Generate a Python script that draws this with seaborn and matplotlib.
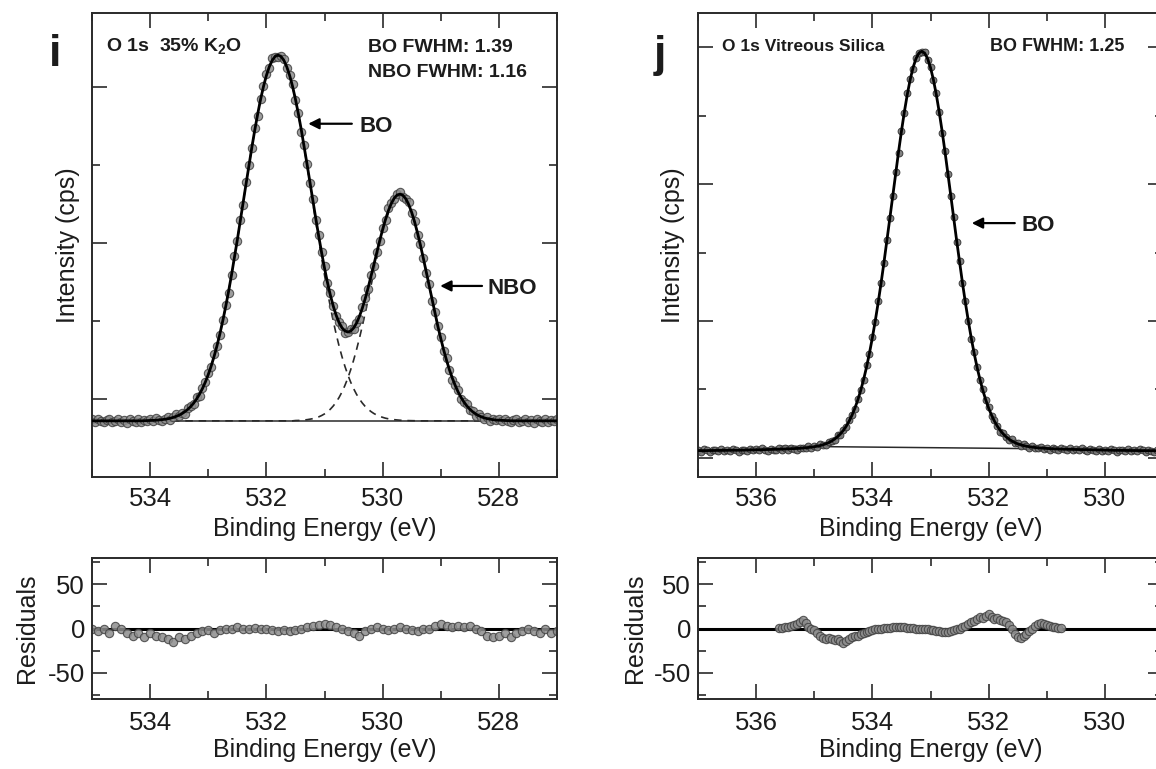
import numpy as np
import pandas as pd
import matplotlib
matplotlib.use("Agg")
import matplotlib.pyplot as plt
from matplotlib.ticker import MultipleLocator, FixedLocator, StrMethodFormatter
import seaborn as sns

sns.set_theme(style="ticks")
plt.rcParams['font.family'] = ['Liberation Sans', 'DejaVu Sans']
plt.rcParams['mathtext.fontset'] = 'custom'
plt.rcParams['mathtext.rm'] = 'Liberation Sans'
plt.rcParams['mathtext.bf'] = 'Liberation Sans:bold'
plt.rcParams['axes.unicode_minus'] = False

# ---------------- data: panel i (O 1s, 35% K2O) ----------------
E_i = np.linspace(535.0, 527.0, 161)          # binding energy (eV), 0.05 eV steps
data_i = [
    0.74, 0.71, 0.75, 0.72, 0.70, 0.73, 0.74, 0.70, 0.72, 0.75,
    0.71, 0.73, 0.69, 0.74, 0.72, 0.71, 0.74, 0.70,
    0.73, 0.72, 0.74, 0.72, 0.76, 0.73, 0.72, 0.75, 0.77, 0.73,
    0.77, 0.81, 0.78, 0.82, 0.81, 0.89, 0.91, 0.94, 1.02, 1.04,
    1.14, 1.22, 1.33, 1.41, 1.58, 1.68, 1.82, 2.01, 2.21, 2.36,
    2.59, 2.84, 3.03, 3.29, 3.49, 3.78, 4.00, 4.22, 4.47, 4.63,
    4.85, 5.01, 5.17, 5.25, 5.37, 5.39, 5.39, 5.40, 5.36, 5.24,
    5.15, 5.04, 4.84, 4.67, 4.43, 4.26, 4.01, 3.77, 3.57, 3.29,
    3.10, 2.88, 2.70, 2.49, 2.36, 2.19, 2.06, 1.99, 1.93, 1.85,
    1.86, 1.90, 1.90, 1.98, 2.03, 2.18, 2.29, 2.41, 2.59, 2.71,
    2.89, 3.03, 3.19, 3.29, 3.45, 3.51, 3.56, 3.63, 3.65, 3.59,
    3.57, 3.52, 3.38, 3.28, 3.10, 2.99, 2.81, 2.62, 2.47, 2.26,
    2.11, 1.93, 1.80, 1.62, 1.53, 1.37, 1.25, 1.18, 1.11, 1.00,
    0.96, 0.94, 0.86, 0.85, 0.78, 0.81, 0.77, 0.75, 0.77, 0.72,
    0.75, 0.73, 0.75, 0.72, 0.75, 0.72, 0.70, 0.73, 0.74, 0.70,
    0.72, 0.75, 0.71, 0.73, 0.69, 0.74, 0.72, 0.71, 0.74, 0.70, 0.73, 0.72, 0.74,
]
fit_i = [0.72] * 18 + [
    0.722, 0.723, 0.725, 0.726, 0.728, 0.731, 0.735, 0.740, 0.746, 0.754,
    0.765, 0.778, 0.794, 0.814, 0.839, 0.869, 0.905, 0.949, 1.001, 1.062,
    1.134, 1.217, 1.313, 1.422, 1.545, 1.682, 1.835, 2.003, 2.185, 2.381,
    2.590, 2.811, 3.040, 3.276, 3.517, 3.757, 3.995, 4.226, 4.447, 4.653,
    4.841, 5.007, 5.148, 5.261, 5.343, 5.393, 5.410, 5.393, 5.344, 5.262,
    5.150, 5.010, 4.845, 4.658, 4.455, 4.236, 4.010, 3.778, 3.545, 3.314,
    3.091, 2.879, 2.679, 2.497, 2.334, 2.193, 2.075, 1.981, 1.914, 1.874,
    1.859, 1.871, 1.910, 1.972, 2.058, 2.163, 2.286, 2.424, 2.572, 2.725,
    2.880, 3.031, 3.174, 3.304, 3.417, 3.509, 3.576, 3.616, 3.628, 3.611,
    3.566, 3.492, 3.393, 3.272, 3.130, 2.974, 2.806, 2.631, 2.453, 2.275,
    2.101, 1.934, 1.777, 1.630, 1.496, 1.374, 1.266, 1.172, 1.089, 1.019,
    0.960, 0.910, 0.869, 0.836, 0.809, 0.788, 0.771, 0.758, 0.748, 0.741,
    0.735, 0.730, 0.728, 0.725, 0.724, 0.722, 0.721, 0.72, 0.72, 0.72,
] + [0.72] * 13
bo_i = [0.72] * 18 + [
    0.722, 0.723, 0.725, 0.726, 0.728, 0.731, 0.735, 0.740, 0.746, 0.754,
    0.765, 0.778, 0.794, 0.814, 0.839, 0.869, 0.905, 0.949, 1.001, 1.062,
    1.134, 1.217, 1.313, 1.422, 1.545, 1.682, 1.835, 2.003, 2.185, 2.381,
    2.590, 2.811, 3.040, 3.276, 3.517, 3.757, 3.995, 4.226, 4.447, 4.653,
    4.841, 5.007, 5.148, 5.261, 5.343, 5.393, 5.410, 5.393, 5.343, 5.261,
    5.148, 5.007, 4.841, 4.653, 4.447, 4.226, 3.995, 3.757, 3.517, 3.276,
    3.040, 2.811, 2.590, 2.381, 2.185, 2.003, 1.835, 1.682, 1.545, 1.422,
    1.313, 1.217, 1.134, 1.062, 1.001, 0.949, 0.905, 0.869, 0.839, 0.814,
    0.794, 0.778, 0.765, 0.754, 0.746, 0.740, 0.735, 0.731, 0.728, 0.726,
    0.725, 0.723, 0.722,
] + [0.72] * 50
nbo_i = [0.72] * 70 + [
    0.724, 0.725, 0.728, 0.730, 0.735, 0.741, 0.748, 0.758, 0.771, 0.788,
    0.809, 0.836, 0.869, 0.910, 0.960, 1.019, 1.089, 1.172, 1.266, 1.374,
    1.496, 1.630, 1.777, 1.934, 2.101, 2.275, 2.453, 2.631, 2.806, 2.973,
    3.129, 3.270, 3.391, 3.489, 3.561, 3.605, 3.620, 3.605, 3.561, 3.489,
    3.391, 3.270, 3.129, 2.973, 2.806, 2.631, 2.453, 2.275, 2.101, 1.934,
    1.777, 1.630, 1.496, 1.374, 1.266, 1.172, 1.089, 1.019, 0.960, 0.910,
    0.869, 0.836, 0.809, 0.788, 0.771, 0.758, 0.748, 0.741, 0.735, 0.730,
    0.728, 0.725, 0.724,
] + [0.72] * 18
bg_i_E = [535.0, 527.0]
bg_i = [0.72, 0.72]

E_res_i = np.linspace(535.0, 527.0, 81)
res_i = [
    0, -3, 0, -5, 3, 0, -5, -8, -5, -10,
    -5, -8, -10, -12, -15, -10, -12, -8, -5, -3,
    -2, -5, -2, 0, 0, 2, 0, 0, 1, 0,
    0, -2, -3, -2, -3, -2, 0, 2, 3, 4,
    5, 4, 2, 0, -3, -5, -8, -3, 0, 2,
    0, -2, 0, 2, 0, -2, -3, -1, 0, 3,
    5, 3, 2, 3, 2, 3, 0, -3, -8, -10,
    -8, -5, -10, -5, -3, 0, -3, -5, 0, -5,
    -3,
]

# ---------------- data: panel j (O 1s, vitreous silica) ----------------
E_j = np.linspace(537.0, 529.0, 161)
data_j = [
    1.12, 1.09, 1.13, 1.11, 1.09, 1.12, 1.11, 1.10, 1.13, 1.10,
    1.12, 1.10, 1.13, 1.11, 1.09, 1.12, 1.11, 1.10, 1.13, 1.11,
    1.13, 1.11, 1.14, 1.12, 1.10, 1.13, 1.12, 1.11, 1.15, 1.12,
    1.14, 1.12, 1.15, 1.13, 1.12, 1.15, 1.14, 1.14, 1.17, 1.15,
    1.17, 1.16, 1.20, 1.19, 1.19, 1.23, 1.25, 1.26, 1.33, 1.34,
    1.41, 1.45, 1.56, 1.62, 1.71, 1.86, 1.99, 2.14, 2.35, 2.52,
    2.77, 2.99, 3.29, 3.56, 3.84, 4.18, 4.50, 4.82, 5.17, 5.46,
    5.78, 6.04, 6.33, 6.53, 6.68, 6.84, 6.91, 6.93, 6.93, 6.82,
    6.71, 6.52, 6.33, 6.05, 5.75, 5.48, 5.15, 4.82, 4.52, 4.16,
    3.87, 3.55, 3.29, 3.00, 2.74, 2.54, 2.33, 2.14, 2.01, 1.84,
    1.74, 1.61, 1.56, 1.46, 1.38, 1.36, 1.31, 1.26, 1.27, 1.21,
    1.22, 1.18, 1.20, 1.17, 1.14, 1.17, 1.15, 1.14, 1.16, 1.13,
    1.15, 1.12, 1.15, 1.13, 1.11, 1.14, 1.13, 1.11, 1.14, 1.11,
    1.13, 1.11, 1.14, 1.12, 1.10, 1.13, 1.12, 1.10, 1.13, 1.10,
    1.12, 1.10, 1.13, 1.11, 1.09, 1.12, 1.11, 1.10, 1.13, 1.10,
    1.12, 1.10, 1.13, 1.11, 1.09, 1.12, 1.10, 1.09, 1.12, 1.09, 1.11,
]
fit_j = [
    1.105, 1.105, 1.106, 1.106, 1.107, 1.107, 1.108, 1.108, 1.109, 1.109,
    1.110, 1.110, 1.111, 1.111, 1.112, 1.112, 1.113, 1.114, 1.115, 1.116,
    1.117, 1.118, 1.119, 1.120, 1.121, 1.122, 1.123, 1.124, 1.126, 1.127,
    1.129, 1.130, 1.132, 1.134, 1.136, 1.139, 1.143, 1.146, 1.151, 1.156,
    1.162, 1.170, 1.179, 1.191, 1.205, 1.223, 1.246, 1.274, 1.308, 1.350,
    1.401, 1.462, 1.536, 1.624, 1.727, 1.848, 1.987, 2.147, 2.328, 2.531,
    2.756, 3.003, 3.270, 3.556, 3.859, 4.174, 4.498, 4.825, 5.151, 5.469,
    5.772, 6.053, 6.307, 6.525, 6.702, 6.833, 6.913, 6.940, 6.913, 6.833,
    6.702, 6.525, 6.307, 6.053, 5.772, 5.469, 5.151, 4.825, 4.498, 4.174,
    3.859, 3.556, 3.270, 3.003, 2.756, 2.531, 2.328, 2.147, 1.987, 1.848,
    1.727, 1.624, 1.536, 1.462, 1.401, 1.350, 1.308, 1.274, 1.246, 1.223,
    1.205, 1.191, 1.179, 1.170, 1.162, 1.156, 1.151, 1.146, 1.143, 1.139,
    1.136, 1.134, 1.132, 1.130, 1.129, 1.127, 1.126, 1.124, 1.123, 1.122,
    1.121, 1.120, 1.119, 1.118, 1.117, 1.116, 1.115, 1.114, 1.113, 1.112,
    1.112, 1.111, 1.111, 1.110, 1.110, 1.109, 1.109, 1.108, 1.108, 1.107,
    1.107, 1.106, 1.106, 1.105, 1.105, 1.105, 1.104, 1.104, 1.103, 1.103, 1.103,
]
bg_j_E = [535.6, 530.75]
bg_j = [1.17, 1.13]

E_res_j = np.linspace(535.6, 530.75, 98)
res_j = [
    0.5, 1, 1.5, 2, 3, 4, 5, 7, 9.5, 6,
    2, 0, -2, -5, -9, -11, -12, -11, -12, -13,
    -12, -14, -16, -14, -12, -10, -9, -8, -6, -5,
    -4, -3, -2, -1, -0.5, 0, 0.5, 1, 1, 1.5,
    2, 2, 2, 1.5, 1, 1, 0.5, 0, 0, -0.5,
    -0.5, -1, -1.5, -2, -2.5, -3, -3.5, -4, -3.5, -3,
    -2, -1, 0, 1.5, 3, 5, 7, 9, 11, 13,
    12, 14, 16, 13, 11, 12, 10, 9, 7, 4,
    0, -6, -10, -11, -9, -6, -3, 0, 3, 5,
    6, 5, 4, 3, 2, 1.5, 1, 0.5,
]

df_i = pd.DataFrame({"E": E_i, "data": data_i, "fit": fit_i, "bo": bo_i, "nbo": nbo_i})
df_j = pd.DataFrame({"E": E_j, "data": data_j, "fit": fit_j})
df_ri = pd.DataFrame({"E": E_res_i, "res": res_i})
df_rj = pd.DataFrame({"E": E_res_j, "res": res_j})

# ---------------- figure ----------------
W, H = 1156, 769
fig = plt.figure(figsize=(W / 100, H / 100), dpi=100)


def box(x0, y0, x1, y1):
    return [x0 / W, 1 - y1 / H, (x1 - x0) / W, (y1 - y0) / H]


ax_i = fig.add_axes(box(92, 13, 557, 477))
ax_j = fig.add_axes(box(698, 13, 1163, 477))
ax_ri = fig.add_axes(box(92, 558, 557, 699))
ax_rj = fig.add_axes(box(698, 558, 1163, 699))

INK = "#1c1c1c"
PT_FACE = "#8d8d8d"
PT_EDGE = "#424242"

# panel i
sns.lineplot(x=bg_i_E, y=bg_i, ax=ax_i, color="#2a2a2a", lw=1.1, zorder=1)
sns.lineplot(data=df_i, x="E", y="bo", ax=ax_i, color="#2a2a2a", lw=1.2,
             linestyle=(0, (4.5, 3.5)), sort=False, estimator=None, zorder=1.5)
sns.lineplot(data=df_i, x="E", y="nbo", ax=ax_i, color="#2a2a2a", lw=1.2,
             linestyle=(0, (4.5, 3.5)), sort=False, estimator=None, zorder=1.5)
sns.scatterplot(data=df_i, x="E", y="data", ax=ax_i, s=36, color=PT_FACE,
                edgecolor=PT_EDGE, linewidth=0.8, alpha=0.85, zorder=2, legend=False)
sns.lineplot(data=df_i, x="E", y="fit", ax=ax_i, color="black", lw=2.0,
             sort=False, estimator=None, zorder=3)

# panel j
sns.lineplot(x=bg_j_E, y=bg_j, ax=ax_j, color="#2a2a2a", lw=1.1, zorder=1)
sns.scatterplot(data=df_j, x="E", y="data", ax=ax_j, s=24, color="#767676",
                edgecolor="#303030", linewidth=0.7, alpha=0.9, zorder=2, legend=False)
sns.lineplot(data=df_j, x="E", y="fit", ax=ax_j, color="black", lw=2.0,
             sort=False, estimator=None, zorder=3)

# residuals
for ax, df in ((ax_ri, df_ri), (ax_rj, df_rj)):
    ax.axhline(0, color="black", lw=2.2, zorder=1)
    sns.scatterplot(data=df, x="E", y="res", ax=ax, s=36, color=PT_FACE,
                    edgecolor=PT_EDGE, linewidth=0.8, alpha=0.85, zorder=2, legend=False)

# ---------------- axes styling ----------------
ax_i.set_xlim(535, 527)
ax_ri.set_xlim(535, 527)
ax_j.set_xlim(537, 529)
ax_rj.set_xlim(537, 529)
ax_i.set_ylim(0.0, 5.95)
ax_j.set_ylim(0.72, 7.50)
for ax in (ax_ri, ax_rj):
    ax.set_ylim(-80, 80)
    ax.yaxis.set_major_locator(MultipleLocator(50))
    ax.yaxis.set_minor_locator(FixedLocator([-75, -25, 25, 75]))
    ax.yaxis.set_major_formatter(StrMethodFormatter("{x:.0f}"))

ax_i.yaxis.set_major_locator(FixedLocator([1, 3, 5]))
ax_i.yaxis.set_minor_locator(FixedLocator([2, 4]))
ax_j.yaxis.set_major_locator(FixedLocator([1, 3, 5, 7]))
ax_j.yaxis.set_minor_locator(FixedLocator([2, 4, 6]))

for ax in (ax_i, ax_j, ax_ri, ax_rj):
    ax.xaxis.set_major_locator(MultipleLocator(2))
    ax.xaxis.set_minor_locator(MultipleLocator(1))
    ax.xaxis.set_major_formatter(StrMethodFormatter("{x:.0f}"))
    ax.tick_params(which="both", direction="in", top=True, right=True,
                   width=1.2, color="#2a2a2a", labelsize=18.5, labelcolor=INK)
    ax.tick_params(which="major", length=11)
    ax.tick_params(which="minor", length=6)
    for s in ax.spines.values():
        s.set_linewidth(1.4)
        s.set_color("#2a2a2a")
    ax.set_xlabel("Binding Energy (eV)", fontsize=18, color=INK)

for ax in (ax_i, ax_j):
    ax.tick_params(axis="y", which="both", labelleft=False)
    ax.tick_params(axis="x", which="major", pad=7)
    ax.set_ylabel("Intensity (cps)", fontsize=18, color=INK)
    ax.xaxis.set_label_coords(0.5, -0.086)
for ax in (ax_ri, ax_rj):
    ax.tick_params(axis="x", which="major", pad=9)
    ax.tick_params(axis="y", which="major", pad=5)
    ax.set_ylabel("Residuals", fontsize=18, color=INK)
    ax.xaxis.set_label_coords(0.5, -0.277)

ax_i.yaxis.set_label_coords(-0.026, 0.5)
ax_j.yaxis.set_label_coords(-0.028, 0.5)
ax_ri.yaxis.set_label_coords(-0.114, 0.5)
ax_rj.yaxis.set_label_coords(-0.110, 0.5)

# ---------------- annotations ----------------
fig.text(0.048, 0.914, "i", fontsize=32, fontweight="bold", color=INK, ha="center", va="baseline")
fig.text(0.571, 0.913, "j", fontsize=32, fontweight="bold", color=INK, ha="center", va="baseline")

ax_i.text(0.030, 0.916, r"O 1s  35% K$_{\mathbf{2}}$O", transform=ax_i.transAxes,
          fontsize=14, fontweight="bold", color=INK, va="baseline")
ax_i.text(0.594, 0.916, "BO FWHM: 1.39", transform=ax_i.transAxes,
          fontsize=14, fontweight="bold", color=INK, va="baseline")
ax_i.text(0.594, 0.862, "NBO FWHM: 1.16", transform=ax_i.transAxes,
          fontsize=14, fontweight="bold", color=INK, va="baseline")
ax_j.text(0.052, 0.918, "O 1s Vitreous Silica", transform=ax_j.transAxes,
          fontsize=12.5, fontweight="bold", color=INK, va="baseline")
ax_j.text(0.628, 0.918, "BO FWHM: 1.25", transform=ax_j.transAxes,
          fontsize=13, fontweight="bold", color=INK, va="baseline")

arrow = dict(arrowstyle="-|>", color="black", lw=1.6, mutation_scale=16, shrinkA=0, shrinkB=0)
ax_i.annotate("", xy=(531.28, 4.53), xytext=(530.53, 4.53), arrowprops=arrow, zorder=5)
ax_i.text(530.39, 4.42, "BO", fontsize=16, fontweight="bold", color=INK, va="baseline")
ax_i.annotate("", xy=(529.01, 2.45), xytext=(528.29, 2.45), arrowprops=arrow, zorder=5)
ax_i.text(528.20, 2.35, "NBO", fontsize=16, fontweight="bold", color=INK, va="baseline")
ax_j.annotate("", xy=(532.29, 4.43), xytext=(531.55, 4.43), arrowprops=arrow, zorder=5)
ax_j.text(531.43, 4.31, "BO", fontsize=16, fontweight="bold", color=INK, va="baseline")

fig.savefig("out.png", dpi=100)
